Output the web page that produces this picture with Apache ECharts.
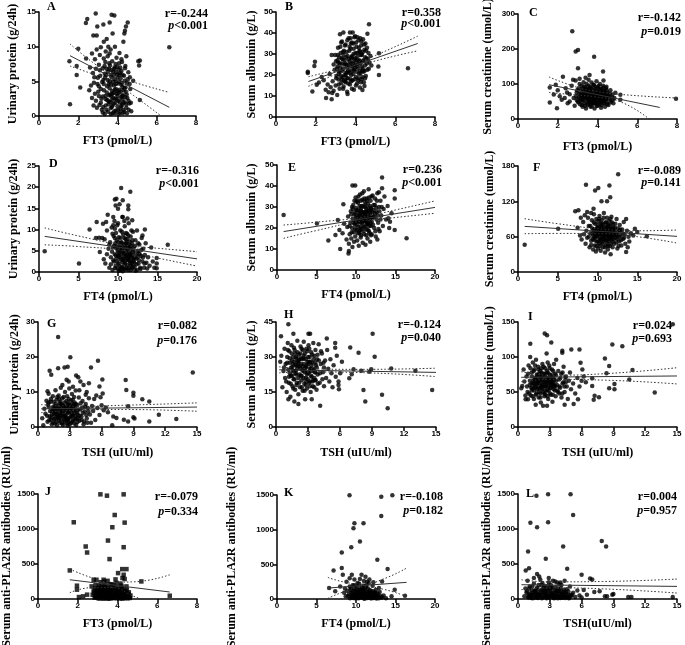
<!DOCTYPE html>
<html>
<head>
<meta charset="utf-8">
<title>Thyroid hormones vs renal indexes</title>
<script src="https://cdn.jsdelivr.net/npm/echarts@6.0.0/dist/echarts.min.js"></script>
<style>
  html, body { margin: 0; padding: 0; background: #fff; }
  #main { width: 685px; height: 645px; }
</style>
</head>
<body>
<div id="main"></div>
<script>
// 刻度
let ticksFT3 = [0, 2, 4, 6, 8];
let ticksFT4 = [0, 5, 10, 15, 20];
let ticksTSH = [0, 3, 6, 9, 12, 15];
let ticksUP15 = [0, 5, 10, 15];
let ticksUP25 = [0, 5, 10, 15, 20, 25];
let ticksUP30 = [0, 10, 20, 30];
let ticksAlb50 = [0, 10, 20, 30, 40, 50];
let ticksAlb45 = [0, 15, 30, 45];
let ticksCr300 = [0, 100, 200, 300];
let ticksCr180 = [0, 60, 120, 180];
let ticksCr150 = [0, 50, 100, 150];
let ticksPLA = [0, 500, 1000, 1500];

// A: FT3 - 尿蛋白
let ptsA = [[1.58,1.7],[1.55,7.9],[1.92,7.2],[2.0,9.7],[1.92,5.9],[2.1,4.1],[2.4,8.3],[2.46,14.0],[2.39,13.4],[2.89,14.8],[2.77,11.6],[2.94,11.6],[2.97,12.9],[3.28,13.2],[3.7,14.6],[3.84,14.5],[3.6,13.5],[4.52,13.5],[4.43,12.9],[4.38,12.3],[4.35,11.9],[3.75,11.9],[3.45,11.1],[3.3,10.7],[2.94,9.6],[3.53,10.0],[3.87,10.0],[4.3,10.7],[6.64,9.9],[5.06,7.9],[5.14,8.0],[5.1,7.3],[4.8,5.1],[5.14,2.3],[2.56,3.7],
  [2.7,9.0],[3.1,8.8],[3.4,9.3],[3.65,9.6],[4.1,9.1],[4.45,8.6],[4.2,8.2],[2.6,7.0],[2.75,6.2],[2.8,4.8],[2.85,3.2],[2.9,2.2],[2.95,1.2],[2.7,2.6],[2.65,4.4],[3.0,5.5],[3.05,7.4],[3.1,6.6],[3.15,3.9],[3.2,0.9],[3.25,2.8],[3.3,4.6],[3.35,6.1],[3.38,7.8],[3.4,1.5],[3.45,3.4],[3.5,5.2],[3.52,0.6],[3.55,2.1],[3.58,6.8],[3.6,4.0],[3.62,7.3],[3.65,1.1],[3.68,2.9],[3.7,5.6],[3.72,3.6],[3.75,0.4],[3.78,6.4],[3.8,1.8],[3.82,4.4],[3.85,7.0],[3.88,2.5],[3.9,5.0],[3.92,0.8],[3.95,3.2],[3.98,6.0],[4.0,1.4],[4.02,4.7],[4.05,2.2],[4.08,7.6],[4.1,3.8],[4.12,0.5],[4.15,5.4],[4.18,2.7],[4.2,6.5],[4.22,1.6],[4.25,4.2],[4.28,3.0],[4.3,0.9],[4.33,5.8],[4.36,2.0],[4.4,7.2],[4.42,3.5],[4.45,1.2],[4.48,4.8],[4.5,2.6],[4.55,6.3],[4.6,1.8],[4.65,3.9],[4.7,0.7],[3.3,8.3],[3.5,8.6],[3.6,9.0],[3.95,8.4],[3.15,1.9],[3.35,0.3],[3.45,6.8],[3.55,4.6],[3.7,2.3],[3.85,5.3],[3.92,3.9],[4.05,6.7],[4.15,1.0],[4.25,2.4],[4.35,4.0],[4.38,6.9],[3.28,5.2],[3.05,4.3],[2.9,6.8],[3.62,3.1],[3.75,1.5],[3.9,7.5],[4.0,2.9],[4.1,5.9],[4.2,4.5],[3.4,2.4],[3.65,5.9],[3.8,3.3],[4.48,0.4],[3.25,6.9],[2.85,8.2],[3.15,9.9]];
let coreA = [[3.02,3.5],[3.08,1.6],[3.12,5.8],[3.18,2.5],[3.22,4.9],[3.27,1.3],[3.31,3.7],[3.36,5.5],[3.39,2.9],[3.43,0.9],[3.47,4.3],[3.51,6.4],[3.54,1.7],[3.57,3.0],[3.61,5.0],[3.63,2.0],[3.67,4.5],[3.69,6.6],[3.71,1.3],[3.74,3.2],[3.76,4.9],[3.79,2.6],[3.81,5.9],[3.83,0.7],[3.86,3.8],[3.89,1.9],[3.91,4.6],[3.93,6.3],[3.96,2.4],[3.99,3.6],[4.01,5.5],[4.03,0.9],[4.06,3.3],[4.09,4.9],[4.11,2.0],[4.13,6.2],[4.16,3.5],[4.19,1.4],[4.21,4.8],[4.24,2.9],[4.26,5.9],[4.29,1.9],[4.31,3.7],[4.34,0.6],[4.37,5.1],[4.39,2.7],[4.41,4.1],[4.44,1.7],[4.47,3.1],[4.51,5.3],[4.56,2.2],[4.62,4.6],[4.68,1.9],[3.25,0.5],[3.48,2.3],[3.66,0.3],[3.88,0.4],[4.07,0.3],[4.27,0.4],[3.58,7.6],[3.84,6.8],[4.14,7.0],[3.34,7.2],[3.05,2.9],[2.98,4.6],[2.82,5.6],[2.78,1.5],[4.57,0.9],[4.63,5.6],[3.42,5.9],[3.73,7.9],[3.97,7.1],[4.23,7.8]];
let fitA = [[1.58,8.7],[6.64,1.25]];
let upA = [[1.58,10.4],[2.8,7.6],[3.7,6.0],[4.8,4.9],[6.64,3.4]];
let loA = [[1.58,7.2],[2.8,6.0],[3.7,5.1],[4.8,3.0],[6.64,-0.9]];

// B: FT3 - 白蛋白
let ptsB = [[6.64,23.2],[1.6,21.6],[1.6,21.0],[1.96,26.3],[1.93,24.3],[1.83,12.1],[2.05,15.3],[2.16,16.4],[2.52,9.0],[2.8,8.5],[2.83,11.4],[5.15,24.0],[5.18,20.0],[4.68,44.2],[4.6,39.7],[3.39,40.2],[3.22,39.4],[3.72,40.2],[3.86,40.2],[5.18,30.3],[2.8,29.5],[2.97,29.5],
  [2.3,19.0],[2.4,17.5],[2.5,13.0],[2.6,15.5],[2.65,11.8],[2.7,20.5],[2.75,14.2],[2.85,17.0],[2.9,12.5],[2.95,22.5],[3.0,15.0],[3.02,26.5],[3.05,19.5],[3.08,10.5],[3.1,24.0],[3.12,33.0],[3.15,17.8],[3.18,28.5],[3.2,13.5],[3.22,21.5],[3.25,30.5],[3.28,16.2],[3.3,25.5],[3.32,36.0],[3.35,19.0],[3.38,23.0],[3.4,14.5],[3.42,31.5],[3.45,27.0],[3.48,17.0],[3.5,34.5],[3.52,21.0],[3.55,24.8],[3.58,12.0],[3.6,29.0],[3.62,18.5],[3.65,37.5],[3.68,22.2],[3.7,26.5],[3.72,15.5],[3.75,32.5],[3.78,20.0],[3.8,28.0],[3.82,35.5],[3.85,17.5],[3.88,24.0],[3.9,30.0],[3.92,13.0],[3.95,22.8],[3.98,38.5],[4.0,26.0],[4.02,19.0],[4.05,33.5],[4.08,16.0],[4.1,28.8],[4.12,23.5],[4.15,36.5],[4.18,20.5],[4.2,31.0],[4.22,14.0],[4.25,25.5],[4.28,34.0],[4.3,18.0],[4.32,29.5],[4.35,22.0],[4.38,37.0],[4.4,27.0],[4.42,16.5],[4.45,32.0],[4.48,24.5],[4.5,35.0],[4.52,19.5],[4.55,28.0],[4.58,33.0],[4.6,22.5],[4.65,30.5],[4.7,26.0],[4.75,29.0],[4.8,24.5],[3.35,27.5],[3.45,20.0],[3.55,31.0],[3.65,25.0],[3.75,18.0],[3.85,22.0],[3.95,27.5],[4.05,24.0],[4.15,18.5],[4.25,21.0],[3.25,23.5],[3.15,20.5],[3.5,16.5],[3.7,33.5],[3.9,35.0],[4.1,38.0],[3.6,21.5],[3.8,25.5],[4.0,30.5],[4.2,26.5],[4.4,21.5],[4.3,30.0],[3.4,29.5],[3.3,18.0],[3.1,27.0],[2.9,25.0],[4.45,14.8],[4.35,12.8],[3.6,11.0]];
let coreB = [[3.03,18.5],[3.07,23.0],[3.11,29.5],[3.16,15.5],[3.21,25.5],[3.24,33.5],[3.27,19.5],[3.31,28.0],[3.34,22.0],[3.37,31.0],[3.41,17.5],[3.44,25.0],[3.47,34.0],[3.51,20.0],[3.53,28.5],[3.57,23.5],[3.59,36.5],[3.63,16.0],[3.66,27.5],[3.69,31.5],[3.71,21.0],[3.74,24.0],[3.77,35.0],[3.79,17.0],[3.83,29.0],[3.86,26.0],[3.89,20.5],[3.91,32.5],[3.94,24.5],[3.97,18.0],[3.99,28.0],[4.03,35.5],[4.06,21.5],[4.09,30.5],[4.11,25.0],[4.14,17.5],[4.17,33.0],[4.19,27.0],[4.23,22.0],[4.26,29.5],[4.29,36.0],[4.31,24.0],[4.34,19.0],[4.37,31.0],[4.39,26.5],[4.43,34.5],[4.46,22.0],[4.49,28.5],[4.53,31.5],[4.57,25.5],[4.62,27.5],[4.67,23.0],[3.48,25.5],[3.62,21.5],[3.78,28.5],[3.92,22.5],[4.08,27.0],[4.21,31.5],[4.36,23.0],[3.55,18.5],[3.75,37.5],[3.95,38.0],[4.24,37.5],[3.28,35.5],[3.18,21.5],[3.13,26.0],[3.38,13.5],[3.82,13.5],[4.02,15.0],[4.27,16.5],[4.48,18.5]];
let fitB = [[1.63,16.9],[7.13,35.0]];
let upB = [[1.63,19.2],[2.8,22.0],[3.8,25.0],[5.0,29.3],[7.13,38.5]];
let loB = [[1.63,14.6],[2.8,19.5],[3.8,23.0],[5.0,26.7],[7.13,31.5]];

// C: FT3 - 肌酐
let ptsC = [[2.73,251],[2.9,193],[3.02,197],[3.83,178],[3.02,145],[3.6,126],[4.28,136],[2.77,112],[2.26,121],[1.6,90],[1.6,47],[1.96,31],[1.9,98],[2.1,65],[2.35,60],[2.47,76],[2.6,71],[5.15,69],[5.15,55],[7.95,58],
  [1.8,70],[2.0,82],[2.2,55],[2.4,88],[2.5,45],[2.7,95],[2.8,60],[2.85,38],[2.9,110],[2.95,75],[3.0,50],[3.05,88],[3.1,115],[3.12,42],[3.15,68],[3.2,95],[3.22,55],[3.25,35],[3.28,80],[3.3,105],[3.32,62],[3.35,45],[3.38,90],[3.4,72],[3.42,30],[3.45,100],[3.48,58],[3.5,82],[3.52,40],[3.55,112],[3.58,66],[3.6,50],[3.62,92],[3.65,35],[3.68,76],[3.7,104],[3.72,56],[3.75,85],[3.78,44],[3.8,68],[3.82,97],[3.85,30],[3.88,60],[3.9,80],[3.92,48],[3.95,108],[3.98,70],[4.0,38],[4.02,90],[4.05,58],[4.08,78],[4.1,42],[4.12,100],[4.15,64],[4.18,32],[4.2,86],[4.22,52],[4.25,72],[4.28,95],[4.3,45],[4.32,62],[4.35,80],[4.38,35],[4.4,56],[4.42,88],[4.45,68],[4.48,48],[4.5,75],[4.55,40],[4.6,62],[4.65,82],[4.7,52],[4.75,70],[4.8,45],[4.85,60],[4.9,75],[3.35,58],[3.45,78],[3.55,52],[3.65,62],[3.75,72],[3.85,52],[3.95,64],[4.05,68],[4.15,54],[4.25,62],[4.35,58],[3.25,64],[3.15,52],[3.05,62],[2.95,55],[3.6,88],[3.8,58],[4.0,74],[4.2,66],[4.4,70],[3.5,66],[3.7,46],[3.9,92],[4.1,84],[3.3,86],[4.45,92],[4.3,110],[3.4,118],[3.1,100],[2.6,50]];
let coreC = [[2.92,65],[2.98,82],[3.04,48],[3.09,72],[3.13,58],[3.17,85],[3.21,40],[3.24,68],[3.27,52],[3.31,92],[3.34,74],[3.37,38],[3.41,62],[3.44,86],[3.47,48],[3.51,70],[3.54,95],[3.57,56],[3.59,42],[3.63,78],[3.66,60],[3.69,88],[3.71,36],[3.74,66],[3.77,50],[3.79,98],[3.83,74],[3.86,44],[3.89,64],[3.91,86],[3.94,54],[3.97,38],[3.99,76],[4.03,62],[4.06,94],[4.09,48],[4.11,70],[4.14,58],[4.17,84],[4.19,40],[4.23,66],[4.26,52],[4.29,78],[4.31,90],[4.34,46],[4.37,64],[4.39,74],[4.43,56],[4.46,82],[4.49,42],[4.53,66],[4.57,58],[4.62,72],[4.67,48],[4.72,62],[4.78,56],[3.48,60],[3.62,70],[3.78,62],[3.92,70],[4.08,60],[4.22,74],[4.36,68],[3.56,82],[3.84,56],[4.12,50],[4.41,62],[3.28,66],[3.18,74],[3.68,44],[3.96,46]];
let fitC = [[1.56,98],[7.13,33]];
let upC = [[1.56,120],[3.0,90],[3.8,80],[5.2,70],[8.0,60]];
let loC = [[1.56,76],[3.0,68],[3.8,64],[5.2,48],[6.6,0]];

// D: FT4 - 尿蛋白
let ptsD = [[0.72,4.9],[5.06,2.0],[16.3,6.4],[10.4,19.8],[11.56,18.9],[9.6,17.1],[9.8,17.3],[10.6,16.9],[9.7,15.7],[10.0,14.9],[11.3,15.7],[11.3,14.8],[8.7,13.5],[9.4,13.0],[10.6,13.0],[11.2,12.6],[6.4,10.0],[7.3,11.8],[8.1,11.4],[8.5,11.8],[9.4,11.0],[13.4,10.0],[13.1,8.6],[14.9,3.3],[14.9,2.0],[14.9,0.9],[7.7,4.7],
  [7.2,8.0],[7.6,8.1],[8.0,8.0],[8.3,7.7],[8.2,3.0],[8.4,2.0],[8.6,9.8],[8.8,5.5],[8.9,1.0],[9.0,7.0],[9.1,3.5],[9.2,10.5],[9.3,0.5],[9.35,5.8],[9.45,8.5],[9.5,2.5],[9.55,12.0],[9.6,4.2],[9.65,6.8],[9.7,1.5],[9.75,9.2],[9.8,3.2],[9.85,7.5],[9.9,0.8],[9.95,5.0],[10.0,11.5],[10.05,2.0],[10.1,8.2],[10.15,4.0],[10.2,6.2],[10.25,0.4],[10.3,9.8],[10.35,3.0],[10.4,7.0],[10.45,1.2],[10.5,5.5],[10.55,13.0],[10.6,2.8],[10.65,8.8],[10.7,4.5],[10.75,0.7],[10.8,6.5],[10.85,10.8],[10.9,2.2],[10.95,7.8],[11.0,3.8],[11.05,5.2],[11.1,1.0],[11.15,9.0],[11.2,3.0],[11.25,6.0],[11.3,0.5],[11.35,11.5],[11.4,4.5],[11.45,7.2],[11.5,2.0],[11.55,5.5],[11.6,8.4],[11.65,1.5],[11.7,3.5],[11.75,6.8],[11.8,0.8],[11.85,4.8],[11.9,9.5],[11.95,2.5],[12.0,5.8],[12.1,1.2],[12.2,7.5],[12.3,3.2],[12.4,0.5],[12.5,5.0],[12.6,2.0],[12.7,6.5],[12.8,1.0],[12.9,3.8],[13.0,8.0],[13.1,2.5],[13.2,5.5],[13.3,1.0],[13.4,4.0],[13.5,6.8],[13.6,2.2],[13.7,0.8],[13.8,3.5],[14.0,1.5],[14.2,5.8],[14.4,2.5],[14.6,1.0],[10.2,16.0],[10.8,12.0],[9.3,9.0],[11.8,12.2],[12.4,9.8],[10.0,3.8],[10.5,9.5],[11.0,6.8],[11.5,4.0],[9.8,6.0],[10.3,5.0],[10.7,3.5],[11.2,7.8],[9.6,10.2],[12.0,3.0],[12.6,4.4],[11.4,2.8]];
let coreD = [[8.6,4.2],[8.9,6.5],[9.1,1.8],[9.25,4.8],[9.4,2.8],[9.5,6.2],[9.62,0.9],[9.72,3.9],[9.82,5.6],[9.92,2.4],[10.02,7.0],[10.08,4.6],[10.18,1.5],[10.22,3.4],[10.28,5.8],[10.38,0.8],[10.42,4.1],[10.48,6.9],[10.52,2.3],[10.58,4.9],[10.62,1.0],[10.68,6.0],[10.72,3.1],[10.78,8.0],[10.82,1.8],[10.88,4.3],[10.92,5.7],[10.98,0.6],[11.02,2.7],[11.08,7.1],[11.12,4.0],[11.18,1.6],[11.22,5.0],[11.28,3.3],[11.32,6.4],[11.38,0.9],[11.42,3.8],[11.48,5.9],[11.52,2.6],[11.58,4.4],[11.62,0.5],[11.68,6.2],[11.72,2.1],[11.78,4.0],[11.82,7.5],[11.88,1.3],[11.92,3.3],[11.98,4.9],[12.05,2.2],[12.15,6.2],[12.25,4.1],[12.35,1.8],[12.45,3.5],[12.55,6.8],[12.65,2.8],[12.75,4.2],[12.85,0.7],[12.95,5.2],[13.15,3.4],[13.35,2.0],[10.1,0.3],[10.6,0.2],[11.0,9.2],[11.3,8.6],[10.3,8.0],[9.6,8.0],[12.2,0.3],[11.7,9.8],[9.9,11.0]];
let fitD = [[0.72,8.4],[20,3.1]];
let upD = [[0.72,10.4],[5,8.5],[10.5,6.4],[15,5.6],[20,4.8]];
let loD = [[0.72,6.4],[5,6.0],[10.5,5.1],[15,3.3],[20,1.4]];

// E: FT4 - 白蛋白
let ptsE = [[0.84,26.2],[5.05,22.2],[6.5,14],[7.4,16.7],[7.7,23.8],[8,10],[8.4,31.3],[9.55,40.2],[9.9,40.2],[9.05,7.9],[9.1,9.0],[13.3,44],[13.3,38.9],[14.9,38],[14.9,34],[14.9,19],[16.4,15.1],[14.1,24.6],[14.3,23],
  [7.9,19.0],[8.3,17.5],[8.5,22.0],[8.8,14.5],[8.9,20.5],[9.0,25.5],[9.1,12.5],[9.2,17.0],[9.3,22.5],[9.35,28.0],[9.4,15.0],[9.5,20.0],[9.55,11.0],[9.6,24.5],[9.65,31.0],[9.7,18.0],[9.75,13.5],[9.8,26.5],[9.85,21.5],[9.9,16.0],[9.95,34.5],[10.0,23.0],[10.05,19.0],[10.1,28.5],[10.15,14.0],[10.2,25.0],[10.25,32.0],[10.3,20.5],[10.35,11.5],[10.4,27.0],[10.45,17.5],[10.5,36.0],[10.55,22.5],[10.6,15.5],[10.65,29.5],[10.7,24.0],[10.75,19.5],[10.8,33.5],[10.85,13.0],[10.9,26.0],[10.95,21.0],[11.0,37.5],[11.05,17.0],[11.1,30.0],[11.15,23.5],[11.2,12.0],[11.25,27.5],[11.3,19.5],[11.35,34.0],[11.4,25.0],[11.45,15.0],[11.5,31.5],[11.55,22.0],[11.6,38.5],[11.65,18.5],[11.7,28.0],[11.75,24.5],[11.8,13.5],[11.85,33.0],[11.9,21.0],[11.95,29.5],[12.0,17.0],[12.1,35.5],[12.2,25.5],[12.3,20.0],[12.4,31.0],[12.5,16.0],[12.6,27.5],[12.7,36.5],[12.8,22.5],[12.9,30.0],[13.0,18.5],[13.1,33.0],[13.2,26.0],[13.4,21.0],[13.5,29.0],[13.6,35.0],[13.8,24.0],[14.0,30.5],[14.2,20.0],[14.5,27.0],[10.0,29.5],[10.5,26.5],[11.0,23.5],[11.5,26.5],[12.0,23.0],[10.7,30.5],[11.3,29.0],[11.8,30.5],[9.9,27.5],[10.3,23.0],[10.8,27.5],[11.2,25.5],[11.7,21.0],[12.2,28.5],[12.6,24.0],[9.5,30.0],[10.2,33.0],[11.1,32.5],[12.4,34.0],[12.9,37.0],[10.6,20.5],[11.4,21.5],[9.8,22.5],[10.4,18.5],[11.9,16.5],[12.7,14.5]];
let coreE = [[9.2,21.0],[9.4,26.5],[9.45,18.0],[9.6,29.0],[9.7,22.5],[9.8,33.0],[9.9,19.5],[10.0,26.0],[10.05,32.5],[10.1,21.5],[10.2,17.5],[10.25,28.5],[10.3,35.0],[10.4,23.5],[10.45,30.5],[10.5,19.0],[10.55,25.5],[10.6,33.0],[10.65,16.5],[10.7,27.5],[10.75,22.5],[10.8,36.5],[10.85,25.0],[10.9,30.5],[10.95,18.5],[11.0,27.5],[11.05,34.0],[11.1,20.5],[11.15,26.5],[11.2,31.0],[11.25,23.0],[11.3,16.5],[11.35,28.0],[11.4,33.0],[11.45,22.0],[11.5,19.0],[11.55,29.5],[11.6,25.0],[11.65,34.5],[11.7,17.5],[11.75,27.5],[11.8,22.5],[11.85,29.0],[11.9,25.0],[11.95,35.0],[12.05,27.5],[12.15,21.5],[12.25,31.0],[12.35,25.5],[12.45,18.5],[12.55,29.5],[12.65,33.0],[12.75,26.0],[12.85,19.5],[12.95,28.0],[13.1,24.0],[13.25,30.0],[10.0,24.5],[10.6,28.5],[11.2,27.5],[11.8,26.0],[12.4,27.0],[10.9,23.0],[11.5,23.5],[12.1,25.0],[10.35,25.5],[11.1,24.0]];
let fitE = [[0.84,18.3],[20,29.8]];
let upE = [[0.84,21.4],[5,22.8],[10.5,25.0],[15,28.6],[20,32.9]];
let loE = [[0.84,15.1],[5,18.8],[10.5,23.2],[15,25.0],[20,27.0]];

// F: FT4 - 肌酐
let ptsF = [[0.84,46.4],[5.05,73.6],[8.55,148],[9.7,138.6],[10.1,142.6],[11.5,147],[12.6,165.8],[10.5,120],[11.2,120],[11.6,127],[7.2,103],[7.6,104.7],[8.4,96.2],[9.5,107.5],[16.2,60.5],[14.7,73.6],[15.0,68],[13.6,34],
  [7.5,75],[7.8,62],[8.0,55],[8.2,85],[8.5,48],[8.6,70],[8.8,92],[8.9,60],[9.0,42],[9.1,78],[9.2,53],[9.3,88],[9.4,66],[9.45,38],[9.5,72],[9.55,98],[9.6,58],[9.65,45],[9.7,82],[9.75,64],[9.8,35],[9.85,90],[9.9,52],[9.95,74],[10.0,60],[10.05,40],[10.1,86],[10.15,68],[10.2,48],[10.25,95],[10.3,57],[10.35,77],[10.4,36],[10.45,65],[10.5,88],[10.55,50],[10.6,72],[10.65,42],[10.7,80],[10.75,62],[10.8,100],[10.85,54],[10.9,70],[10.95,33],[11.0,84],[11.05,58],[11.1,45],[11.15,76],[11.2,92],[11.25,64],[11.3,38],[11.35,70],[11.4,52],[11.45,86],[11.5,60],[11.55,44],[11.6,78],[11.65,30],[11.7,66],[11.75,94],[11.8,55],[11.85,72],[11.9,42],[11.95,82],[12.0,62],[12.1,48],[12.2,75],[12.3,58],[12.4,90],[12.5,40],[12.6,68],[12.7,52],[12.8,80],[12.9,62],[13.0,45],[13.1,72],[13.2,56],[13.3,85],[13.4,64],[13.5,48],[13.7,70],[13.8,42],[13.9,60],[14.0,52],[14.2,66],[14.5,62],[10.0,76],[10.4,82],[10.9,62],[11.3,80],[11.8,68],[12.2,64],[9.6,70],[10.2,64],[10.7,56],[11.1,66],[11.6,58],[12.0,72],[12.5,56],[9.4,56],[9.9,66],[10.5,76],[11.4,62],[10.3,70],[12.8,70],[8.3,64],[7.9,92],[8.7,102],[9.2,100],[13.6,90]];
let coreF = [[8.7,58],[8.9,78],[9.1,66],[9.2,46],[9.35,74],[9.45,62],[9.55,84],[9.65,54],[9.75,72],[9.85,44],[9.92,62],[10.02,80],[10.08,52],[10.18,70],[10.22,90],[10.28,44],[10.38,64],[10.42,74],[10.48,56],[10.58,82],[10.62,64],[10.68,48],[10.72,70],[10.78,92],[10.82,60],[10.88,76],[10.92,42],[10.98,66],[11.02,54],[11.08,84],[11.12,70],[11.18,50],[11.22,62],[11.28,76],[11.32,44],[11.38,66],[11.42,80],[11.48,56],[11.52,72],[11.58,64],[11.62,90],[11.68,48],[11.72,74],[11.78,60],[11.82,84],[11.88,52],[11.92,66],[11.98,76],[12.05,56],[12.15,68],[12.25,82],[12.35,50],[12.45,62],[12.55,74],[12.65,44],[12.75,60],[12.85,72],[12.95,54],[13.15,66],[13.35,58],[10.05,68],[10.55,60],[11.05,72],[11.55,68],[12.05,70],[10.35,54],[10.85,66],[11.35,56],[11.85,62],[9.75,60],[12.35,64]];
let fitF = [[0.84,77.5],[20,60.5]];
let upF = [[0.84,90.5],[5,82],[10.8,72.5],[15,70],[20,71.3]];
let loF = [[0.84,65],[5,65.5],[10.8,65],[15,60],[20,49.2]];

// G: TSH - 尿蛋白
let ptsG = [[1.9,25.7],[3.05,19.9],[5.66,18.9],[5.0,17],[6.07,13.6],[1.9,16.8],[2.5,17],[2.8,17.2],[1.1,16.1],[1.25,14.9],[14.6,15.6],[13.05,2.3],[10.5,7.3],[10.5,1.6],[11.4,3.5],[9.84,7.9],[9.0,9.8],[9.0,8.9],[9.0,2.8],[9.1,2.4],[8.27,13.4],[8.33,10.6],[8.5,5.9],[8.5,1.6],[8.1,2.1],[7.4,2.6],[7.1,3.0],[7.0,0.5],
  [3.6,14.7],[3.8,14.2],[4.0,13.0],[4.3,12.0],[2.7,13.5],[2.9,13.0],[2.3,12.0],[3.3,11.5],[4.8,12.5],[5.8,11.6],[6.1,9.6],[5.5,9.0],[5.9,8.5],[4.6,10.0],[3.9,10.5],[0.9,10.2],[1.0,9.5],[0.8,7.5],[0.6,5.2],[0.4,2.5],[0.5,0.5],[0.7,3.8],
  [0.9,1.5],[1.0,5.8],[1.1,3.0],[1.2,7.2],[1.3,0.8],[1.35,4.5],[1.4,8.8],[1.5,2.2],[1.55,6.0],[1.6,1.0],[1.65,10.5],[1.7,3.8],[1.75,7.8],[1.8,0.5],[1.85,5.2],[1.9,2.6],[1.95,9.0],[2.0,4.0],[2.05,6.8],[2.1,1.2],[2.15,11.2],[2.2,3.2],[2.25,5.8],[2.3,8.2],[2.35,0.6],[2.4,4.6],[2.45,2.0],[2.5,7.0],[2.55,10.0],[2.6,3.5],[2.65,5.5],[2.7,1.0],[2.75,8.8],[2.8,4.2],[2.85,6.4],[2.9,2.4],[2.95,11.0],[3.0,0.8],[3.05,5.0],[3.1,7.6],[3.15,3.0],[3.2,9.4],[3.25,1.6],[3.3,5.8],[3.4,4.0],[3.45,7.0],[3.5,2.2],[3.55,10.4],[3.6,0.6],[3.7,6.2],[3.75,3.6],[3.85,8.4],[3.9,1.8],[4.0,5.0],[4.1,3.0],[4.2,7.4],[4.3,0.8],[4.4,4.4],[4.5,6.6],[4.6,2.4],[4.7,5.4],[4.8,8.2],[4.9,3.6],[5.0,1.2],[5.1,6.0],[5.2,4.6],[5.4,2.0],[5.6,5.4],[5.8,3.4],[6.0,6.2],[6.2,4.8],[6.4,5.6],[6.6,4.2],[1.45,5.0],[1.75,3.0],[2.2,6.5],[2.6,2.6],[2.9,8.0],[3.3,3.2],[3.6,4.8],[1.2,2.0],[1.6,4.0],[2.0,8.0],[2.4,6.0],[2.8,0.4],[3.2,6.6],[3.8,2.6],[4.2,5.6],[1.0,7.0],[2.1,4.8],[2.7,5.6],[3.4,8.6],[4.5,9.2],[5.3,8.0]];
let coreG = [[0.85,3.2],[0.95,6.4],[1.05,1.9],[1.15,4.6],[1.22,8.0],[1.28,2.8],[1.38,5.6],[1.42,1.2],[1.48,7.2],[1.52,3.6],[1.58,5.0],[1.62,2.4],[1.68,6.6],[1.72,1.5],[1.78,4.5],[1.82,8.6],[1.88,3.2],[1.92,6.0],[1.98,1.8],[2.02,5.2],[2.08,3.4],[2.12,7.2],[2.18,2.2],[2.22,4.4],[2.28,1.0],[2.32,6.2],[2.38,3.0],[2.42,8.6],[2.48,4.8],[2.52,1.6],[2.58,5.8],[2.62,3.0],[2.68,7.4],[2.72,2.2],[2.78,4.6],[2.82,6.8],[2.88,1.4],[2.92,4.0],[2.98,6.2],[3.02,2.8],[3.08,4.4],[3.12,1.2],[3.18,5.6],[3.22,3.6],[3.28,7.8],[3.32,2.0],[3.38,4.8],[3.42,1.0],[3.48,5.8],[3.52,3.2],[3.58,6.6],[3.62,2.4],[3.68,4.2],[3.72,1.4],[3.82,5.0],[3.92,3.2],[4.02,6.8],[4.12,2.0],[4.22,4.0],[4.35,1.6],[4.45,5.8],[4.55,3.4],[4.65,1.2],[4.75,4.4],[1.3,3.6],[2.0,2.6],[2.5,3.2],[3.0,5.4],[1.7,5.6],[2.3,4.0],[2.8,2.0],[3.4,6.4]];
let fitG = [[0.3,5.2],[15,5.7]];
let upG = [[0.3,6.4],[3.5,5.95],[8,6.2],[15,6.9]];
let loG = [[0.3,4.1],[3.5,4.75],[8,5.0],[15,4.5]];

// H: TSH - 白蛋白
let ptsH = [[1.16,44],[0.47,38.9],[1.63,40],[3.04,40],[3.2,40],[4.76,37.9],[9.06,40],[9.25,30.1],[6.96,34.1],[7.74,31.8],[5.55,36],[5.55,34],[6.18,28],[1.16,11.9],[1.72,10.9],[2.1,9.9],[2.73,11.9],[3.35,11.9],[4.14,9.1],[8.2,15.9],[8.37,10.9],[9.94,13.8],[10.47,8],[10.8,25.1],[13.07,24.1],[14.64,15.9],[8.75,23.7],[8.93,24.7],[8.0,24.1],[7.27,24.7],[7.1,22.6],[6.87,20.9],[6.02,23],[5.86,19.5],[5.86,18],[5.9,16.2],
  [0.4,28.0],[0.5,30.5],[0.6,17.0],[0.7,24.0],[0.8,33.5],[0.85,21.0],[0.9,27.0],[1.0,15.0],[1.05,30.0],[1.1,36.0],[1.15,24.5],[1.2,19.0],[1.25,32.5],[1.3,27.5],[1.35,13.0],[1.4,22.0],[1.45,35.0],[1.5,25.5],[1.55,17.5],[1.6,30.0],[1.65,20.5],[1.7,28.0],[1.75,33.0],[1.8,16.0],[1.85,24.0],[1.9,29.5],[1.95,19.0],[2.0,37.0],[2.05,26.0],[2.1,14.0],[2.15,31.0],[2.2,22.5],[2.25,17.0],[2.3,34.5],[2.35,27.0],[2.4,20.0],[2.45,29.0],[2.5,15.5],[2.55,24.0],[2.6,36.5],[2.65,18.5],[2.7,31.5],[2.75,25.5],[2.8,21.0],[2.85,33.5],[2.9,16.5],[2.95,28.0],[3.0,23.0],[3.05,35.0],[3.1,19.0],[3.15,30.0],[3.2,25.0],[3.25,15.0],[3.3,32.0],[3.35,21.5],[3.4,27.5],[3.45,17.5],[3.5,36.0],[3.55,24.5],[3.6,30.5],[3.65,20.0],[3.7,33.0],[3.75,26.5],[3.8,16.0],[3.85,29.0],[3.9,22.5],[4.0,35.5],[4.1,19.0],[4.2,27.0],[4.3,31.5],[4.4,23.5],[4.5,17.5],[4.6,28.5],[4.7,21.0],[4.8,33.0],[4.9,25.0],[5.0,19.5],[5.1,29.0],[5.2,23.0],[5.3,17.0],[5.4,26.5],[5.6,21.5],[5.7,30.5],[1.3,23.0],[1.7,24.0],[2.1,27.5],[2.5,26.0],[2.9,22.5],[3.3,24.0],[3.7,23.5],[2.3,25.0],[2.7,23.5],[1.9,22.5],[2.2,29.0],[3.1,28.0],[1.5,28.5],[3.5,20.0],[2.6,30.5],[3.9,31.0],[4.5,25.5],[2.8,18.0],[3.2,19.5],[2.4,33.5],[1.8,31.5]];
let coreH = [[0.75,25.5],[0.95,19.5],[1.05,27.5],[1.12,33.0],[1.22,21.5],[1.28,29.5],[1.38,18.5],[1.42,25.5],[1.48,31.5],[1.52,22.0],[1.58,27.0],[1.62,16.5],[1.68,34.0],[1.72,20.5],[1.78,26.5],[1.82,23.0],[1.88,30.0],[1.92,18.0],[1.98,25.0],[2.02,32.0],[2.08,21.0],[2.12,28.5],[2.18,19.0],[2.22,26.0],[2.28,31.5],[2.32,22.0],[2.38,29.5],[2.42,17.0],[2.48,24.5],[2.52,33.0],[2.58,21.0],[2.62,27.0],[2.68,15.5],[2.72,24.0],[2.78,29.0],[2.82,19.5],[2.88,26.5],[2.92,32.5],[2.98,20.5],[3.02,27.0],[3.08,23.5],[3.12,33.5],[3.18,17.5],[3.22,28.0],[3.28,22.0],[3.32,26.5],[3.38,31.0],[3.42,19.5],[3.48,25.0],[3.52,29.0],[3.58,17.0],[3.62,23.5],[3.68,27.5],[3.72,20.0],[3.82,25.5],[3.92,18.5],[4.02,28.5],[4.12,23.0],[4.22,32.5],[4.35,20.5],[4.45,27.5],[1.6,24.0],[2.0,28.0],[2.4,22.0],[2.8,25.5],[3.2,25.0],[3.6,21.0],[2.6,29.5],[1.9,26.5],[3.0,30.0]];
let fitH = [[0.3,24.5],[15,23.4]];
let upH = [[0.3,25.8],[3,25.0],[8,24.7],[15,25.2]];
let loH = [[0.3,23.2],[3,23.6],[8,23.3],[15,21.6]];

// I: TSH - 肌酐
let ptsI = [[14.6,146.7],[12.9,49.2],[10.8,81.4],[10.5,68],[9.84,115.5],[8.9,117.8],[9.1,61.5],[9.1,54],[8.6,87],[8.2,98],[8.35,76.7],[8.6,55.4],[7.64,42.6],[7.14,38.8],[7.23,44.5],[7.0,58.7],[7.0,69.6],[5.8,110.7],[5.03,110.7],[5.9,91.8],[6.07,82.3],[5.66,39.8],[5.25,32.7],[2.52,133.5],[2.74,131],[3.14,120.7],[1.16,119],[4.18,108.9],[4.18,106],[4.4,31.7],[2.36,30.3],[2.74,30.3],[1.67,31.7],[0.72,39.8],[0.94,39.8],[0.53,82],[0.4,58.7],[0.31,55.4],
  [0.6,65],[0.8,72],[0.9,50],[1.0,88],[1.1,60],[1.15,100],[1.2,45],[1.3,78],[1.35,55],[1.4,92],[1.45,66],[1.5,40],[1.55,82],[1.6,58],[1.65,70],[1.7,96],[1.75,48],[1.8,75],[1.85,62],[1.9,86],[1.95,42],[2.0,68],[2.05,55],[2.1,80],[2.15,35],[2.2,72],[2.25,60],[2.3,90],[2.35,50],[2.4,76],[2.45,64],[2.5,44],[2.55,84],[2.6,58],[2.65,70],[2.7,105],[2.75,52],[2.8,78],[2.85,40],[2.9,66],[2.95,88],[3.0,56],[3.05,74],[3.1,46],[3.15,62],[3.2,82],[3.25,36],[3.3,70],[3.35,54],[3.4,90],[3.45,60],[3.5,76],[3.55,44],[3.6,66],[3.7,52],[3.8,80],[3.9,58],[4.0,70],[4.1,42],[4.2,62],[4.3,86],[4.4,50],[4.5,72],[4.6,58],[4.7,40],[4.8,66],[4.9,78],[5.0,54],[5.2,62],[5.4,48],[5.6,70],[5.8,58],[6.0,66],[6.2,72],[6.4,64],[1.5,62],[1.9,56],[2.3,66],[2.7,62],[3.1,68],[3.5,58],[2.1,48],[2.5,74],[2.9,52],[3.3,60],[1.7,68],[2.2,84],[2.8,92],[3.6,96],[4.2,78],[1.3,52],[2.6,46],[3.9,48],[4.5,64],[0.7,45]];
let coreI = [[0.85,58],[0.95,76],[1.05,48],[1.12,66],[1.18,84],[1.25,56],[1.32,72],[1.38,44],[1.42,62],[1.48,80],[1.52,52],[1.58,68],[1.62,88],[1.68,46],[1.72,60],[1.78,74],[1.82,54],[1.88,66],[1.92,82],[1.98,50],[2.02,62],[2.08,72],[2.12,42],[2.18,58],[2.22,78],[2.28,54],[2.32,70],[2.38,60],[2.42,86],[2.48,48],[2.52,66],[2.58,76],[2.62,52],[2.68,64],[2.72,80],[2.78,44],[2.82,58],[2.88,70],[2.92,62],[2.98,84],[3.02,48],[3.08,66],[3.12,56],[3.18,74],[3.22,64],[3.28,46],[3.32,80],[3.38,58],[3.42,68],[3.48,52],[3.58,74],[3.68,60],[3.78,50],[3.88,68],[3.98,56],[4.08,76],[4.18,48],[4.28,64],[4.38,58],[4.48,70],[1.3,62],[1.8,64],[2.3,56],[2.8,68],[3.3,64],[1.6,56],[2.1,66],[2.6,58],[3.1,60],[2.0,76],[2.9,76]];
let fitI = [[0.3,71],[15,72.9]];
let upI = [[0.3,79],[3,74],[8,76],[15,84.7]];
let loI = [[0.3,64.8],[3,68],[8,67],[15,61.5]];

// J: FT3 - PLA2R抗体
let ptsJ = [[3.14,1495],[3.47,1476],[4.31,1495],[1.8,1096],[3.86,1200],[3.74,1025],[4.36,1091],[2.4,750],[2.47,664],[3.52,835],[4.31,740],[3.6,570],[1.6,408],[1.96,190],[1.96,133],[2.06,28],[2.27,38],[2.47,62],[4.24,427],[4.45,427],[4.31,346],[4.36,285],[4.03,370],[5.2,251],[6.63,47],[2.8,275],[2.94,275],[3.3,275],
  [2.7,180],[2.75,60],[2.8,120],[2.85,20],[2.9,200],[2.95,90],[3.0,30],[3.05,160],[3.1,10],[3.15,240],[3.2,70],[3.25,130],[3.3,5],[3.35,190],[3.4,50],[3.45,110],[3.5,260],[3.55,25],[3.6,150],[3.65,80],[3.7,210],[3.75,15],[3.8,120],[3.85,60],[3.9,280],[3.95,35],[4.0,170],[4.05,90],[4.1,8],[4.15,220],[4.2,55],[4.25,140],[4.3,20],[4.35,100],[4.4,45],[4.45,180],[4.5,10],[4.55,70],[4.6,30],[4.65,50],[3.0,100],[3.2,180],[3.4,140],[3.6,40],[3.8,200],[4.0,60],[4.2,110],[3.1,60],[3.3,90],[3.5,120],[3.7,100],[3.9,140],[4.1,130],[3.45,20],[3.65,10],[3.85,30],[4.05,20],[2.9,40],[3.25,30],[3.55,75],[3.75,55],[3.95,80],[4.35,40],[3.35,250],[4.25,300],[3.15,150]];
let coreJ = [[2.82,90],[2.88,150],[2.92,25],[2.97,120],[3.02,60],[3.07,190],[3.12,35],[3.17,100],[3.22,15],[3.27,170],[3.32,55],[3.37,120],[3.42,85],[3.47,10],[3.52,160],[3.57,45],[3.62,95],[3.67,130],[3.72,20],[3.77,75],[3.82,165],[3.87,40],[3.92,105],[3.97,10],[4.02,135],[4.07,50],[4.12,85],[4.17,25],[4.22,160],[4.27,65],[4.32,115],[4.37,15],[4.42,80],[4.47,130],[4.52,40],[4.57,95],[4.62,15],[3.1,130],[3.4,190],[3.6,115],[3.8,15],[4.0,40],[4.2,190],[4.4,110],[3.3,40],[3.5,70],[3.7,60],[3.9,60],[4.1,60],[3.2,110],[3.6,210],[3.95,230],[3.05,10],[4.25,5],[3.55,5]];
let fitJ = [[1.6,275],[6.63,100]];
let upJ = [[1.6,427],[2.8,295],[3.7,240],[4.8,245],[6.63,346]];
let loJ = [[1.6,90],[2.8,165],[3.7,165],[4.8,40],[6.63,-150]];

// K: FT4 - PLA2R抗体
let ptsK = [[9.18,1495],[13.2,1476],[14.6,1495],[13.2,1198],[9.8,1092],[10.95,1092],[9.68,1020],[10.5,829],[9.4,747],[8.2,671],[12.7,565],[8.2,446],[14.0,431],[7.16,412],[8.33,350],[9.47,350],[13.3,254],[6.6,158],[7.37,110],[16.2,48],[14.9,134],[14.5,38],
  [8.0,180],[8.5,90],[8.8,250],[9.0,40],[9.2,300],[9.3,130],[9.5,20],[9.6,200],[9.7,70],[9.8,280],[9.9,10],[10.0,160],[10.1,50],[10.2,230],[10.3,100],[10.4,15],[10.5,290],[10.6,60],[10.7,180],[10.8,30],[10.9,120],[11.0,260],[11.1,5],[11.2,80],[11.3,200],[11.4,40],[11.5,150],[11.6,20],[11.7,280],[11.8,60],[11.9,110],[12.0,10],[12.1,190],[12.2,45],[12.3,90],[12.4,25],[12.5,130],[12.6,8],[12.7,60],[12.8,30],[13.0,100],[13.2,20],[13.5,50],[13.8,12],[9.4,90],[9.9,120],[10.4,70],[10.9,50],[11.4,100],[11.9,40],[12.4,70],[9.6,30],[10.1,20],[10.6,110],[11.1,140],[11.6,70],[12.1,20],[10.3,40],[10.8,80],[11.3,20],[11.8,30],[10.0,90],[10.5,140],[11.0,60],[9.2,180],[8.6,150],[12.9,160],[12.2,240],[10.7,350],[11.2,320]];
let coreK = [[8.7,40],[8.9,120],[9.1,70],[9.25,10],[9.35,160],[9.45,50],[9.55,110],[9.65,15],[9.75,140],[9.85,60],[9.95,30],[10.05,100],[10.15,180],[10.25,10],[10.35,130],[10.45,45],[10.55,90],[10.65,20],[10.75,150],[10.85,55],[10.95,10],[11.05,110],[11.15,35],[11.25,170],[11.35,65],[11.45,15],[11.55,100],[11.65,45],[11.75,130],[11.85,10],[11.95,75],[12.05,35],[12.15,110],[12.25,15],[12.35,55],[12.45,95],[12.55,20],[12.65,45],[12.75,80],[12.9,10],[13.1,45],[13.3,25],[9.8,200],[10.4,220],[11.0,190],[11.6,230],[9.5,60],[10.0,40],[10.6,30],[11.2,55],[11.8,90],[12.4,45],[10.2,75],[10.9,160],[11.4,250]];
let fitK = [[6.44,158],[16.4,240]];
let upK = [[6.44,311],[8.5,245],[11,215],[13.5,290],[16.4,445]];
let loK = [[6.44,8],[8.5,105],[11,175],[13.5,140],[16.4,35]];

// L: TSH - PLA2R抗体
let ptsL = [[1.74,1476],[2.84,1495],[4.96,1495],[5.2,1200],[1.17,1091],[1.8,1025],[2.84,1096],[4.26,750],[7.9,830],[8.31,750],[0.95,679],[2.62,574],[4.64,432],[0.73,408],[1.04,441],[6.0,346],[6.8,294],[1.8,356],[2.0,323],[3.7,237],[4.0,237],[7.7,109],[8.2,38],[8.4,38],[9.0,71],[8.9,62],[10.4,28],[10.7,28],[14.6,28],
  [0.6,40],[0.7,150],[0.8,90],[0.9,260],[1.0,20],[1.1,180],[1.2,60],[1.3,120],[1.4,10],[1.5,220],[1.6,80],[1.7,40],[1.8,160],[1.9,15],[2.0,100],[2.1,280],[2.2,50],[2.3,140],[2.4,25],[2.5,190],[2.6,70],[2.7,10],[2.8,120],[2.9,240],[3.0,40],[3.1,90],[3.2,170],[3.3,20],[3.4,60],[3.5,250],[3.6,110],[3.7,30],[3.8,150],[3.9,70],[4.0,15],[4.1,200],[4.2,50],[4.3,100],[4.4,260],[4.5,30],[4.6,140],[4.7,60],[4.8,10],[4.9,180],[5.0,40],[5.2,90],[5.4,30],[5.6,120],[5.8,50],[6.0,20],[6.2,130],[6.5,60],[7.0,280],[7.2,100],[1.2,30],[1.6,120],[2.0,60],[2.4,90],[2.8,30],[3.2,80],[3.6,50],[4.0,110],[4.4,40],[1.0,60],[1.4,90],[1.8,20],[2.2,200],[2.6,40],[3.0,150],[3.4,10],[3.8,40],[4.2,20],[2.9,300],[3.3,260],[1.5,300],[5.1,60]];
let coreL = [[0.85,110],[0.95,30],[1.05,150],[1.15,80],[1.25,15],[1.35,180],[1.45,55],[1.55,110],[1.65,20],[1.75,140],[1.85,70],[1.95,200],[2.05,35],[2.15,120],[2.25,10],[2.35,90],[2.45,160],[2.55,40],[2.65,110],[2.75,60],[2.85,190],[2.95,20],[3.05,120],[3.15,50],[3.25,150],[3.35,85],[3.45,30],[3.55,170],[3.65,70],[3.75,10],[3.85,110],[3.95,40],[4.05,150],[4.15,20],[4.25,80],[4.35,130],[4.45,15],[4.55,70],[4.65,30],[4.75,110],[4.85,20],[4.95,60],[1.3,50],[1.7,90],[2.1,60],[2.5,110],[2.9,70],[3.3,40],[3.7,110],[4.1,70],[4.5,100],[1.9,40],[2.7,150],[3.5,120],[2.3,230],[3.1,200],[3.9,210]];
let fitL = [[0.32,204],[15,180]];
let upL = [[0.32,275],[3,245],[8,250],[15,285]];
let loL = [[0.32,133],[3,160],[8,145],[15,85]];

// 面板配置 box: [左, 上, 右, 下]
let panels = [
  { id: 'A', pts: ptsA.concat(coreA), fit: fitA, up: upA, lo: loA, xt: ticksFT3, yt: ticksUP15, xName: 'FT3 (pmol/L)', yName: 'Urinary protein (g/24h)', box: [39, 12, 196, 116], yGap: 20, xGap: 19, tag: [47, 7], rp: [208, 14, 26], r: 'r=-0.244', p: '<0.001' },
  { id: 'B', pts: ptsB.concat(coreB), fit: fitB, up: upB, lo: loB, xt: ticksFT3, yt: ticksAlb50, xName: 'FT3 (pmol/L)', yName: 'Serum albumin (g/L)', box: [276, 12, 435, 117], yGap: 18, xGap: 19, tag: [285, 7], rp: [441, 13, 24], r: 'r=0.358', p: '<0.001' },
  { id: 'C', pts: ptsC.concat(coreC), fit: fitC, up: upC, lo: loC, xt: ticksFT3, yt: ticksCr300, xName: 'FT3 (pmol/L)', yName: 'Serum creatinine (umol/L)', box: [518, 14, 677, 119], yGap: 24, xGap: 22, tag: [529, 13], rp: [681, 18, 32], r: 'r=-0.142', p: '=0.019' },
  { id: 'D', pts: ptsD.concat(coreD), fit: fitD, up: upD, lo: loD, xt: ticksFT4, yt: ticksUP25, xName: 'FT4 (pmol/L)', yName: 'Urinary protein (g/24h)', box: [39, 166, 197, 272], yGap: 19, xGap: 19, tag: [49, 164], rp: [199, 171, 184], r: 'r=-0.316', p: '<0.001' },
  { id: 'E', pts: ptsE.concat(coreE), fit: fitE, up: upE, lo: loE, xt: ticksFT4, yt: ticksAlb50, xName: 'FT4 (pmol/L)', yName: 'Serum albumin (g/L)', box: [277, 165, 435, 270], yGap: 19, xGap: 19, tag: [288, 168], rp: [442, 170, 183], r: 'r=0.236', p: '<0.001' },
  { id: 'F', pts: ptsF.concat(coreF), fit: fitF, up: upF, lo: loF, xt: ticksFT4, yt: ticksCr180, xName: 'FT4 (pmol/L)', yName: 'Serum creatinine (umol/L)', box: [518, 166, 677, 272], yGap: 22, xGap: 19, tag: [533, 168], rp: [681, 171, 183], r: 'r=-0.089', p: '=0.141' },
  { id: 'G', pts: ptsG.concat(coreG), fit: fitG, up: upG, lo: loG, xt: ticksTSH, yt: ticksUP30, xName: 'TSH (uIU/ml)', yName: 'Urinary protein (g/24h)', box: [38, 322, 197, 427], yGap: 17, xGap: 20, tag: [47, 324], rp: [197, 326, 341], r: 'r=0.082', p: '=0.176' },
  { id: 'H', pts: ptsH.concat(coreH), fit: fitH, up: upH, lo: loH, xt: ticksTSH, yt: ticksAlb45, xName: 'TSH (uIU/ml)', yName: 'Serum albumin (g/L)', box: [276, 322, 436, 427], yGap: 18, xGap: 20, tag: [284, 315], rp: [441, 325, 338], r: 'r=-0.124', p: '=0.040' },
  { id: 'I', pts: ptsI.concat(coreI), fit: fitI, up: upI, lo: loI, xt: ticksTSH, yt: ticksCr150, xName: 'TSH (uIU/ml)', yName: 'Serum creatinine (umol/L)', box: [518, 322, 677, 427], yGap: 22, xGap: 20, tag: [528, 317], rp: [672, 326, 339], r: 'r=0.024', p: '=0.693' },
  { id: 'J', pts: ptsJ.concat(coreJ), fit: fitJ, up: upJ, lo: loJ, xt: ticksFT3, yt: ticksPLA, xName: 'FT3 (pmol/L)', yName: 'Serum anti-PLA2R antibodies (RU/ml)', box: [38, 494, 197, 599], yGap: 24, xGap: 19, tag: [45, 492], rp: [198, 497, 512], r: 'r=-0.079', p: '=0.334', square: true },
  { id: 'K', pts: ptsK.concat(coreK), fit: fitK, up: upK, lo: loK, xt: ticksFT4, yt: ticksPLA, xName: 'FT4 (pmol/L)', yName: 'Serum anti-PLA2R antibodies (RU/ml)', box: [277, 495, 435, 599], yGap: 39, xGap: 19, tag: [284, 493], rp: [443, 497, 511], r: 'r=-0.108', p: '=0.182' },
  { id: 'L', pts: ptsL.concat(coreL), fit: fitL, up: upL, lo: loL, xt: ticksTSH, yt: ticksPLA, xName: 'TSH(uIU/ml)', yName: 'Serum anti-PLA2R antibodies (RU/ml)', box: [518, 494, 677, 599], yGap: 25, xGap: 19, tag: [526, 494], rp: [677, 497, 511], r: 'r=0.004', p: '=0.957' }
];

let serif = '"Liberation Serif", "Times New Roman", serif';
let sans = '"Liberation Sans", Arial, sans-serif';

// 坐标轴公共样式
let axisBase = (ticks, name, gap) => ({
  type: 'value',
  min: ticks[0],
  max: ticks[ticks.length - 1],
  interval: ticks[1] - ticks[0],
  name: name,
  nameLocation: 'middle',
  nameGap: gap,
  nameTextStyle: { fontFamily: serif, fontWeight: 'bold', fontSize: 12, color: '#000' },
  axisLine: { show: true, onZero: false, lineStyle: { color: '#000', width: 1.5 } },
  axisTick: { show: true, length: 4, lineStyle: { color: '#000', width: 1.5 } },
  axisLabel: {
    fontFamily: sans, fontWeight: 'bold', fontSize: 8, color: '#000', margin: 3,
    showMinLabel: true, showMaxLabel: true,
    formatter: (v) => String(v)
  },
  splitLine: { show: false }
});

let grids = [], xAxes = [], yAxes = [], series = [], graphics = [];

panels.forEach((p, i) => {
  grids.push({ left: p.box[0], top: p.box[1], width: p.box[2] - p.box[0], height: p.box[3] - p.box[1], containLabel: false, outerBoundsMode: 'none' });
  xAxes.push(Object.assign(axisBase(p.xt, p.xName, p.xGap), { gridIndex: i }));
  yAxes.push(Object.assign(axisBase(p.yt, p.yName, p.yGap), { gridIndex: i }));

  // 散点
  series.push({
    type: 'scatter', xAxisIndex: i, yAxisIndex: i, data: p.pts,
    symbol: p.square ? 'rect' : 'circle', symbolSize: 4.5,
    itemStyle: { color: '#000' }, z: 2
  });
  // 回归线和置信带
  series.push({
    type: 'line', xAxisIndex: i, yAxisIndex: i, data: p.fit,
    symbol: 'none', lineStyle: { color: '#333', width: 1 }, z: 3
  });
  [p.up, p.lo].forEach(band => {
    series.push({
      type: 'line', xAxisIndex: i, yAxisIndex: i, data: band, smooth: true,
      symbol: 'none', lineStyle: { color: '#333', width: 1, type: [1.5, 2] }, z: 3
    });
  });

  // 字母
  graphics.push({
    type: 'text', x: p.tag[0], y: p.tag[1],
    style: { text: p.id, font: 'bold 12px ' + serif, fill: '#000', textAlign: 'left', align: 'left', textVerticalAlign: 'middle', verticalAlign: 'middle' }
  });
  // r 值和 p 值
  graphics.push({
    type: 'text', x: p.rp[0], y: p.rp[1],
    style: { text: p.r, font: 'bold 12px ' + serif, fill: '#000', textAlign: 'right', align: 'right', textVerticalAlign: 'middle', verticalAlign: 'middle' }
  });
  graphics.push({
    type: 'text', x: p.rp[0], y: p.rp[2],
    style: {
      text: '{i|p}{n|' + p.p + '}', fill: '#000', font: 'bold 12px ' + serif,
      textAlign: 'right', align: 'right', textVerticalAlign: 'middle', verticalAlign: 'middle',
      rich: {
        i: { fontStyle: 'italic', fontWeight: 'bold', fontSize: 12, fontFamily: serif, fill: '#000' },
        n: { fontWeight: 'bold', fontSize: 12, fontFamily: serif, fill: '#000' }
      }
    }
  });
});

let chart = echarts.init(document.getElementById('main'), null, { renderer: 'canvas' });
chart.setOption({
  animation: false,
  backgroundColor: '#fff',
  grid: grids,
  xAxis: xAxes,
  yAxis: yAxes,
  series: series,
  graphic: graphics
});
</script>
</body>
</html>
